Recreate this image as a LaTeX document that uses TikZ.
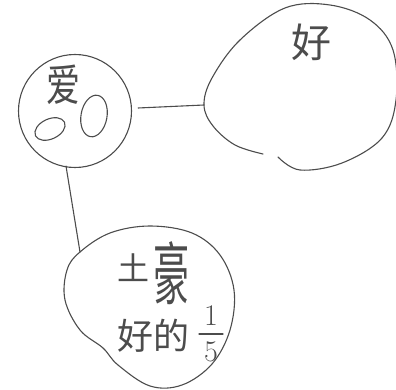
\documentclass[tikz,border=0pt]{standalone}
\usepackage{fontspec}
\newfontfamily\cjk{Noto Sans CJK SC}
\begin{document}
\begin{tikzpicture}[x=1pt,y=-1pt,
  ink/.style={draw=black!70,line width=1.1pt,line cap=round,line join=round},
  glyph/.style={text=black!70,font=\cjk,inner sep=0pt}]
\useasboundingbox (0,0) rectangle (396,390);
% left circle
\node[ink,circle,minimum size=113pt,inner sep=0pt] (ai) at (75,111) {};
\draw[ink] (50,129) ellipse [x radius=16pt, y radius=10pt, rotate=25];
\draw[ink] (94,116) ellipse [x radius=13pt, y radius=21pt, rotate=-10];
\node[glyph,font=\cjk\fontsize{34}{34}\selectfont,yscale=1.3,transform shape] (aitxt) at (63,85) {爱};
% right blob
\draw[ink] plot[smooth,tension=0.6] coordinates {(263,154) (235,145) (213,126) (204,105) (212,78) (240,40) (285,8) (330,5) (370,20) (393,50) (396,100) (382,138) (342,163) (300,170) (278,157)};
\coordinate (hao) at (204,105);
\node[glyph,font=\cjk\fontsize{40}{40}\selectfont] (haotxt) at (311,42) {好};
% bottom blob
\draw[ink] plot[smooth cycle,tension=0.6] coordinates {(80,252) (110,233) (150,226) (192,233) (220,255) (234,290) (230,330) (212,364) (182,385) (150,386) (118,365) (103,348) (80,330) (65,300) (67,270)};
\coordinate (tu) at (80,252);
\node[glyph,font=\cjk\fontsize{32}{32}\selectfont] (t1) at (133,268) {土};
\node[glyph,font=\cjk\fontsize{36}{36}\selectfont,yscale=1.9,transform shape] (t2) at (171,273) {豪};
\node[glyph,font=\cjk\fontsize{36}{36}\selectfont] (t3) at (153,336) {好的};
\node[glyph,font=\fontsize{30}{30}\selectfont] (f1) at (211,316) {1};
\node[glyph,font=\fontsize{30}{30}\selectfont] (f2) at (211,352) {5};
\draw[ink] (199,334) -- (223,334);
% connectors
\coordinate (aiR) at (ai.east);
\draw[ink] (aiR) ++(6,-3) -- (hao);
\draw[ink] (ai.south) ++(-9,-2) -- (tu);
\end{tikzpicture}
\end{document}
